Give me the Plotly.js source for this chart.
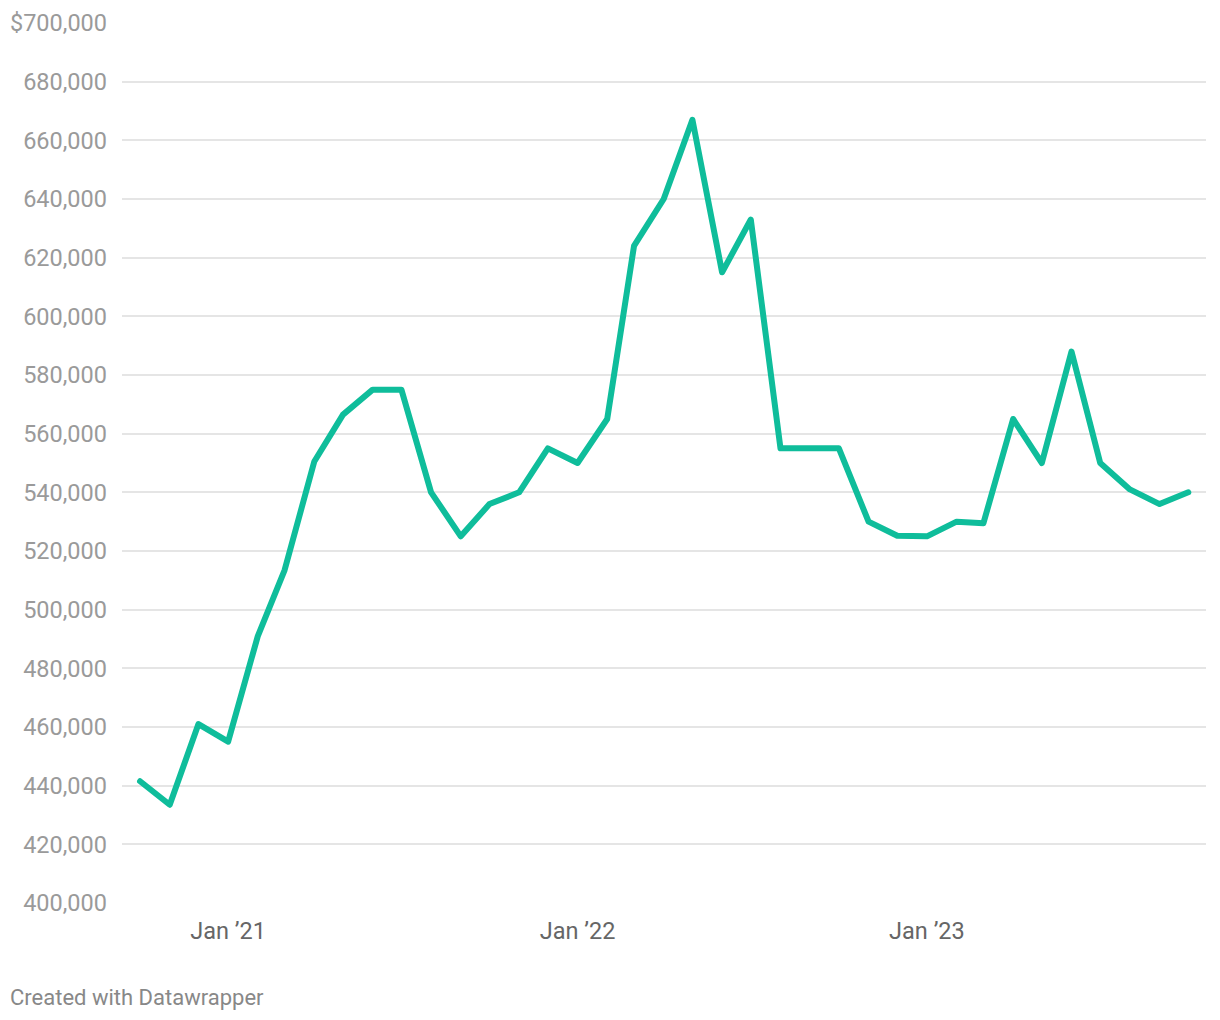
<!DOCTYPE html>
<html>
<head>
<meta charset="utf-8">
<script src="https://cdn.plot.ly/plotly-3.0.1.min.js"></script>
<style>
  html, body { margin: 0; padding: 0; background: #fff; }
  #chart { width: 1220px; height: 1020px; }
  #chart .js-line { stroke-linejoin: round !important; stroke-linecap: round !important; }
</style>
</head>
<body>
<div id="chart"></div>
<script>
const months = [
  '2020-10-01','2020-11-01','2020-12-01',
  '2021-01-01','2021-02-01','2021-03-01','2021-04-01','2021-05-01','2021-06-01',
  '2021-07-01','2021-08-01','2021-09-01','2021-10-01','2021-11-01','2021-12-01',
  '2022-01-01','2022-02-01','2022-03-01','2022-04-01','2022-05-01','2022-06-01',
  '2022-07-01','2022-08-01','2022-09-01','2022-10-01','2022-11-01','2022-12-01',
  '2023-01-01','2023-02-01','2023-03-01','2023-04-01','2023-05-01','2023-06-01',
  '2023-07-01','2023-08-01','2023-09-01','2023-10-01'
];
const prices = [
  441500, 433500, 461000,
  455000, 491000, 513500, 550500, 566500, 575000,
  575000, 540000, 525000, 536000, 540000, 555000,
  550000, 565000, 624000, 640000, 667000, 615000,
  633000, 555000, 555000, 555000, 530000, 525200,
  525000, 530000, 529500, 565000, 550000, 588000,
  550000, 541000, 536000, 540000
];
const xTickVals = ['2021-01-01', '2022-01-01', '2023-01-01'];
const xTickText = ['Jan \u201921', 'Jan \u201922', 'Jan \u201923'];
const yTickVals = [400000, 420000, 440000, 460000, 480000, 500000, 520000, 540000,
                   560000, 580000, 600000, 620000, 640000, 660000, 680000, 700000];
const yTickText = ['400,000','420,000','440,000','460,000','480,000','500,000','520,000','540,000',
                   '560,000','580,000','600,000','620,000','640,000','660,000','680,000','$700,000'];
const footerText = 'Created with Datawrapper';

const trace = {
  x: months,
  y: prices,
  type: 'scatter',
  mode: 'lines',
  line: { color: '#0fbd9b', width: 6, shape: 'linear' },
  hoverinfo: 'x+y'
};

const layout = {
  width: 1220,
  height: 1020,
  margin: { l: 122, r: 14, t: 23, b: 117 },
  paper_bgcolor: '#ffffff',
  plot_bgcolor: '#ffffff',
  font: { family: 'Roboto, sans-serif' },
  showlegend: false,
  xaxis: {
    type: 'date',
    range: ['2020-09-12 03:00', '2023-10-19 12:00'],
    tickmode: 'array',
    tickvals: xTickVals,
    ticktext: xTickText,
    showgrid: false,
    zeroline: false,
    showline: false,
    ticks: '',
    ticklabelstandoff: 11,
    tickfont: { family: 'Roboto, sans-serif', size: 23.5, color: '#666666' }
  },
  yaxis: {
    range: [400000, 700000],
    tickmode: 'array',
    tickvals: yTickVals,
    ticktext: yTickText,
    showgrid: true,
    gridcolor: '#e5e5e5',
    gridwidth: 2,
    zeroline: false,
    showline: false,
    ticks: '',
    ticklabelstandoff: 14,
    tickfont: { family: 'Roboto, sans-serif', size: 23.5, color: '#9a9a9a' }
  },
  annotations: [{
    text: footerText,
    xref: 'paper', yref: 'paper',
    x: -114 / 1084, y: -94 / 880,
    xanchor: 'left', yanchor: 'middle',
    showarrow: false,
    font: { family: 'Roboto, sans-serif', size: 22, color: '#888888' }
  }]
};

Plotly.newPlot('chart', [trace], layout, { displayModeBar: false, staticPlot: true });
</script>
</body>
</html>
